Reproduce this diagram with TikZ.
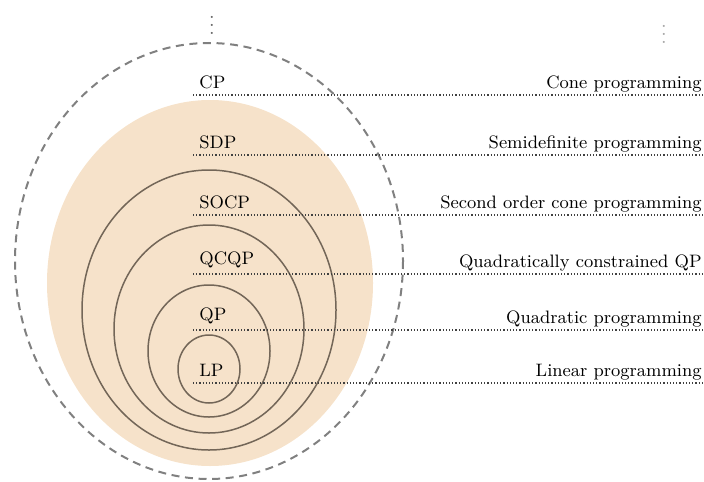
\documentclass[tikz,border=0pt]{standalone}
\usepackage{amsmath}
\usepackage{amssymb}
\usepackage{tikz}
\usetikzlibrary{
    positioning
}

\definecolor{convexfill}{RGB}{246,226,202}
\definecolor{setline}{RGB}{115,102,88}

\tikzset{
    setlabel/.style={anchor=south west, inner sep=3pt, font=\small},
    namelabel/.style={anchor=south east, inner sep=1pt, font=\small},
    guide/.style={densely dotted, line width=0.6pt, black!75}
}

\begin{document}
\begin{tikzpicture}[x=0.5pt,y=-0.5pt]

\useasboundingbox (0,0) rectangle (704,481);

% SDP region
\fill[convexfill] (210,283) ellipse [x radius=163, y radius=183];

% Cone programs
\draw[black!50, line width=1pt, dash pattern=on 4pt off 2.8pt]
(209,261) ellipse [x radius=194, y radius=218];

% Nested sets
\draw[setline, line width=0.75pt] (209,310) ellipse [x radius=127, y radius=140];
\draw[setline, line width=0.75pt] (209,329) ellipse [x radius=95, y radius=104];
\draw[setline, line width=0.75pt] (209,351) ellipse [x radius=61, y radius=66];
\draw[setline, line width=0.75pt] (209,369) ellipse [x radius=31, y radius=34];

% Labels and guides
\foreach \short/\long/\y in {
    CP/Cone programming/95,
    SDP/Semidefinite programming/155,
    SOCP/Second order cone programming/215,
    QCQP/Quadratically constrained QP/274,
    QP/Quadratic programming/330,
    LP/Linear programming/383}{
    \node[setlabel] (s\short) at (193,\y) {\short};
    \node[namelabel] (n\short) at (704,\y) {\long};
    \draw[guide] (s\short.south west) -- (n\short.south east);
}

% More classes
\node[anchor=base, text=black!60] (moretop) at (212,35) {$\vdots$};
\node[anchor=base, text=black!35] (moreright) at (664,44) {$\vdots$};

\end{tikzpicture}
\end{document}
